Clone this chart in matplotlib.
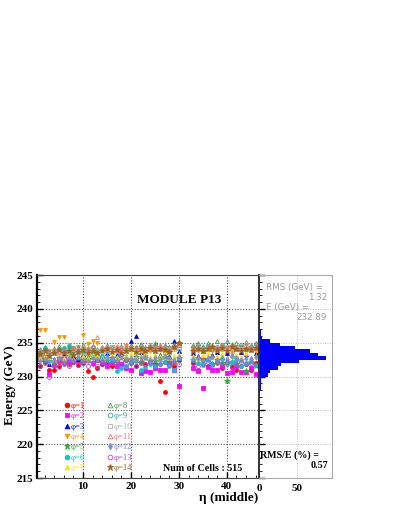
import numpy as np
import matplotlib
matplotlib.use("Agg")
import matplotlib.pyplot as plt
from matplotlib.ticker import MultipleLocator

# eta columns of the middle layer (31 and 32 are empty)
eta = list(range(1, 31)) + list(range(33, 47))

phi1 = [231.5, 232.2, 231.0, 231.0, 231.6, 232.0, 231.8, 232.2, 231.7, 232.0,
        230.8, 230.0, 231.3, 231.8, 232.0, 231.5, 232.3, 231.9, 232.4, 232.0,
        231.6, 232.1, 231.8, 232.2, 231.9, 229.4, 227.7, 232.3, 231.5, 232.5,
        232.0, 231.0, 232.6, 231.5, 231.9, 232.2, 231.2, 232.0, 231.4, 230.9, 231.6, 231.8, 230.9, 232.0]
phi2 = [232.6, 232.9, 230.3, 231.7, 232.3, 232.5, 232.0, 232.6, 232.3, 232.8,
        232.4, 232.0, 232.5, 232.2, 231.5, 232.0, 231.5, 231.8, 231.2, 231.0,
        232.5, 230.5, 230.8, 230.6, 231.3, 230.9, 231.0, 232.0, 230.9, 228.6,
        231.2, 230.8, 228.3, 231.4, 231.0, 230.9, 231.6, 230.5, 230.7, 231.5, 230.6, 230.7, 231.2, 230.4]
phi3 = [232.8, 232.5, 231.9, 232.6, 233.0, 233.2, 232.8, 233.0, 232.6, 233.3,
        232.9, 233.1, 232.7, 233.0, 233.4, 232.9, 233.2, 233.5, 233.0, 235.2,
        236.0, 233.6, 233.3, 234.0, 234.5, 233.2, 233.6, 233.0, 235.2, 233.8,
        233.5, 233.1, 233.7, 232.8, 233.2, 233.6, 232.9, 233.4, 233.2, 233.0, 233.6, 233.3, 232.7, 233.5]
phi4 = [236.8, 236.8, 233.8, 235.1, 235.8, 235.8, 234.6, 234.2, 234.4, 236.2,
        234.8, 235.2, 234.9, 233.8, 234.0, 233.5, 234.2, 233.8, 234.5, 233.9,
        234.2, 233.6, 234.0, 233.8, 234.3, 233.9, 234.1, 233.6, 234.0, 234.6,
        234.2, 233.8, 234.0, 234.3, 233.7, 234.1, 233.9, 234.2, 233.6, 234.0, 234.4, 233.8, 234.1, 233.7]
phi5 = [232.9, 232.3, 232.6, 232.0, 232.8, 232.4, 233.0, 232.5, 232.7, 232.2,
        232.6, 232.9, 232.4, 232.7, 232.3, 232.8, 232.5, 233.0, 232.6, 232.4,
        232.9, 232.2, 232.7, 232.5, 232.3, 232.6, 232.9, 232.4, 232.1, 232.7,
        232.5, 232.8, 232.3, 232.6, 231.9, 232.4, 232.0, 229.3, 232.2, 231.8, 232.5, 230.8, 232.1, 231.6]
phi6 = [233.5, 234.2, 232.4, 233.4, 233.0, 234.2, 234.5, 233.8, 234.0, 233.6,
        233.9, 233.4, 233.2, 233.0, 232.8, 232.5, 230.8, 231.2, 231.5, 232.0,
        232.3, 231.0, 231.4, 231.8, 231.5, 231.9, 232.2, 231.6, 231.0, 232.8,
        232.4, 232.0, 231.7, 232.5, 231.9, 232.3, 232.6, 231.8, 232.1, 232.4, 231.5, 232.0, 232.3, 231.7]
phi7 = [232.7, 233.2, 232.9, 232.5, 233.3, 232.8, 233.1, 232.6, 233.4, 233.0,
        232.8, 233.2, 233.0, 232.7, 233.1, 233.3, 232.9, 233.5, 233.0, 233.4,
        232.8, 233.1, 233.3, 232.9, 233.2, 233.0, 233.6, 232.8, 233.1, 233.3,
        233.0, 232.7, 233.2, 233.4, 232.9, 233.1, 233.3, 232.8, 233.0, 233.2, 232.9, 233.4, 232.8, 233.1]
phi8 = [234.0, 234.3, 233.8, 234.2, 234.5, 234.1, 234.4, 233.9, 234.3, 234.6,
        234.2, 234.5, 234.0, 234.4, 234.6, 234.3, 234.1, 234.5, 234.2, 234.7,
        234.4, 234.8, 234.3, 234.6, 234.9, 234.5, 234.7, 234.4, 234.8, 235.1,
        234.6, 234.9, 234.5, 235.0, 234.7, 235.2, 234.6, 235.3, 234.8, 235.0, 234.5, 235.1, 234.7, 234.9]
phi9 = [233.6, 234.0, 233.4, 233.8, 234.1, 233.7, 233.9, 234.2, 233.6, 234.0,
        233.8, 234.3, 233.7, 234.1, 233.9, 234.4, 233.8, 234.2, 234.0, 234.3,
        233.9, 234.5, 234.1, 234.3, 234.6, 234.0, 234.4, 234.2, 234.5, 234.1,
        234.3, 234.6, 234.2, 234.5, 234.0, 234.4, 234.7, 234.2, 234.5, 234.3, 234.6, 234.1, 234.4, 234.8]
phi10 = [233.2, 233.6, 233.0, 233.5, 233.8, 233.3, 233.7, 233.4, 233.9, 233.6,
         234.0, 233.5, 233.8, 234.1, 233.7, 234.4, 233.9, 234.2, 233.8, 234.0,
         233.7, 234.1, 233.9, 234.3, 233.8, 234.2, 234.0, 233.7, 234.1, 234.4,
         233.9, 234.2, 233.8, 234.0, 234.3, 233.9, 234.1, 234.4, 233.8, 234.2, 234.0, 234.3, 233.9, 234.1]
phi11 = [233.9, 233.5, 233.7, 234.0, 233.6, 234.1, 233.8, 234.2, 233.9, 234.3,
         234.0, 234.4, 235.8, 234.4, 234.4, 234.1, 234.5, 234.2, 234.6, 234.3,
         234.0, 234.4, 234.1, 234.5, 234.2, 234.6, 234.3, 234.0, 234.4, 234.7,
         234.2, 234.5, 234.1, 234.4, 234.0, 234.3, 234.6, 234.2, 234.5, 234.1, 234.4, 234.7, 234.3, 234.6]
phi12 = [232.3, 232.6, 232.1, 232.5, 232.8, 232.2, 232.7, 232.4, 232.9, 232.5,
         232.3, 232.8, 232.6, 232.4, 232.9, 232.7, 232.5, 233.0, 232.6, 232.8,
         232.4, 232.7, 232.9, 232.5, 232.8, 232.6, 233.0, 232.7, 232.5, 232.9,
         232.6, 232.8, 232.4, 232.7, 232.9, 232.5, 232.8, 232.6, 233.0, 232.7, 232.4, 232.8, 232.6, 232.9]
phi13 = [231.6, 232.0, 230.0, 231.8, 231.4, 231.9, 231.5, 232.1, 231.7, 232.0,
         231.6, 231.9, 231.5, 232.2, 231.8, 232.0, 231.7, 232.3, 231.9, 232.1,
         231.6, 232.0, 231.8, 232.2, 231.5, 231.9, 232.1, 231.7, 232.0, 231.8,
         232.0, 231.6, 231.9, 232.2, 231.7, 232.0, 231.8, 232.1, 231.6, 231.9, 232.2, 231.8, 232.0, 231.7]
phi14 = [233.3, 233.7, 233.1, 233.5, 233.9, 233.4, 233.8, 233.2, 233.6, 233.9,
         233.5, 233.8, 233.4, 233.7, 234.0, 233.6, 233.9, 233.5, 233.8, 234.1,
         233.6, 234.0, 233.7, 234.2, 233.8, 234.1, 233.9, 233.6, 234.3, 235.0,
         233.8, 234.1, 233.7, 234.0, 234.3, 233.9, 234.2, 233.8, 234.4, 234.0, 233.7, 234.1, 233.9, 234.2]

series = [phi1, phi2, phi3, phi4, phi5, phi6, phi7,
          phi8, phi9, phi10, phi11, phi12, phi13, phi14]
labels = ["\u03c6=%d" % (i + 1) for i in range(14)]

# energy distribution of all cells, 0.5 GeV bins
hist_edges = [227.5, 228.0, 228.5, 229.0, 229.5, 230.0, 230.5, 231.0, 231.5, 232.0,
              232.5, 233.0, 233.5, 234.0, 234.5, 235.0, 235.5, 236.0, 236.5, 237.0]
hist_counts = [1, 2, 2, 3, 2, 12, 14, 25, 29, 52, 88, 78, 67, 47, 28, 14, 4, 2, 2]

n_cells = 515
rms = 1.32
mean_e = 232.89
rms_over_e = 0.57

colors = ["#ff0000", "#ff00ff", "#0000ff", "#ff9900", "#33aa33", "#00cccc", "#ffe600",
          "#4f9a4f", "#33a6a6", "#b0b0b0", "#ee7070", "#7f8fd0", "#a64de6", "#a0601e"]
markers = ["o", "s", "^", "v", "*", "o", "^", "^", "o", "s", "^", "d", "o", "*"]
filled = [True] * 7 + [False] * 7
filled[11] = True
filled[13] = True

serif = "Liberation Serif"

fig = plt.figure(figsize=(3.99, 5.16), dpi=100)
W, H = 399.0, 516.0
ax = fig.add_axes([37 / W, 1 - 478 / H, 222 / W, 203 / H])
axh = fig.add_axes([259 / W, 1 - 478 / H, 73 / W, 203 / H])

for y, lab, c, m, f in zip(series, labels, colors, markers, filled):
    ax.plot(eta, y, linestyle="none", marker=m, ms=2.8 if m != "*" else 3.8,
            color=c, mfc=c if f else "none", mec=c, mew=0.6, label=lab)

ax.set_xlim(0.4, 46.7)
ax.set_ylim(215, 245)
ax.set_xticks([10, 20, 30, 40])
ax.set_yticks(range(215, 246, 5))
ax.xaxis.set_minor_locator(MultipleLocator(2))
ax.yaxis.set_minor_locator(MultipleLocator(1))
ax.tick_params(which="both", direction="in", top=False, right=False)
ax.tick_params(which="major", length=4, width=1, pad=3)
ax.tick_params(which="minor", length=2, width=0.6)
for t in ax.get_xticklabels() + ax.get_yticklabels():
    t.set_fontfamily(serif)
    t.set_fontweight("bold")
    t.set_fontsize(8)
ax.grid(True, which="major", color="#555555", linestyle=(0, (1, 1.5)), linewidth=0.8)
for s in ax.spines.values():
    s.set_color("#444444")
ax.spines["left"].set_linewidth(1.6)
ax.spines["left"].set_color("black")
ax.spines["right"].set_visible(False)

ax.text(0.64, 0.877, "MODULE P13", transform=ax.transAxes, ha="center", va="center",
        family=serif, weight="bold", fontsize=9.5)
ax.text(0.925, 0.045, "Num of Cells : %d" % n_cells, transform=ax.transAxes, ha="right",
        va="center", family=serif, weight="bold", fontsize=7.2)

leg = ax.legend(ncol=2, loc="lower left", bbox_to_anchor=(0.095, 0.0), frameon=False,
                prop={"family": serif, "size": 6.2}, labelcolor="linecolor",
                handlelength=0.6, handletextpad=0.15, columnspacing=2.6,
                labelspacing=0.27, borderaxespad=0.3, markerscale=1.2)

fig.text(10 / W, 1 - 385 / H, "Energy (GeV)", rotation=90, ha="center", va="center",
         family=serif, weight="bold", fontsize=9.5)
fig.text(258 / W, 1 - 498 / H, "\u03b7 (middle)", ha="right", va="center",
         family=serif, weight="bold", fontsize=9.5)

# side histogram
axh.stairs(hist_counts, hist_edges, orientation="horizontal", fill=True, color="#0000ff")
axh.set_ylim(215, 245)
axh.set_xlim(0, 96)
axh.set_xticks([0, 50])
axh.set_yticks(range(215, 246, 5))
axh.yaxis.set_minor_locator(MultipleLocator(1))
axh.tick_params(axis="y", which="both", direction="in", labelleft=False, left=True, right=False)
axh.tick_params(axis="y", which="major", length=4, width=1)
axh.tick_params(axis="y", which="minor", length=2, width=0.6)
axh.tick_params(axis="x", which="both", length=0, pad=4)
for t in axh.get_xticklabels():
    t.set_fontfamily(serif)
    t.set_fontweight("bold")
    t.set_fontsize(8)
axh.grid(True, color="#bbbbbb", linestyle=(0, (1, 1.5)), linewidth=0.7)
axh.set_axisbelow(True)
for k in ["top", "right", "bottom"]:
    axh.spines[k].set_color("#aaaaaa")
    axh.spines[k].set_linewidth(0.8)
axh.spines["left"].set_color("#333333")
axh.spines["left"].set_linewidth(1.4)

gray = "#9a9a9a"
axh.text(0.096, 0.936, "RMS (GeV) =", transform=axh.transAxes, ha="left", va="center",
         color=gray, fontsize=6.3, family="DejaVu Sans")
axh.text(0.93, 0.887, "%.2f" % rms, transform=axh.transAxes, ha="right", va="center",
         color=gray, fontsize=6.3, family="DejaVu Sans")
axh.text(0.096, 0.842, "E (GeV) =", transform=axh.transAxes, ha="left", va="center",
         color=gray, fontsize=6.3, family="DejaVu Sans")
axh.text(0.93, 0.793, "%.2f" % mean_e, transform=axh.transAxes, ha="right", va="center",
         color=gray, fontsize=6.3, family="DejaVu Sans")
axh.text(0.015, 0.113, "RMS/E (%) =", transform=axh.transAxes, ha="left", va="center",
         family=serif, weight="bold", fontsize=7.2)
axh.text(0.95, 0.06, "%.2f" % rms_over_e, transform=axh.transAxes, ha="right", va="center",
         family=serif, weight="bold", fontsize=7.2)

fig.savefig("out.png", dpi=100)
